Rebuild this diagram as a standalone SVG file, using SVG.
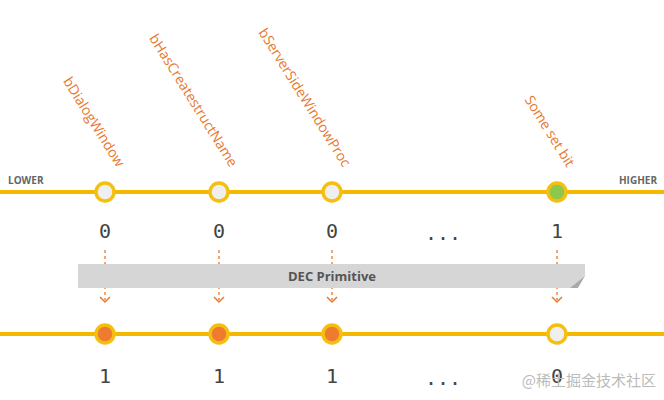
<svg xmlns="http://www.w3.org/2000/svg" width="664" height="400" viewBox="0 0 664 400">
<style>
.lab{font-family:"Open Sans","Liberation Sans",sans-serif;font-size:14px;fill:#e8782e}
.side{font-family:"Open Sans","Liberation Sans",sans-serif;font-size:10px;font-weight:bold;fill:#666}
.dig{font-family:"DejaVu Sans Mono","Liberation Mono",monospace;font-size:20px;fill:#444;text-anchor:middle}
.line{stroke:#f5b800;stroke-width:4}
.off{fill:#efefef;stroke:#f5bf10;stroke-width:3.5}
.on{fill:#ee7b30;stroke:#f5bf10;stroke-width:3.5}
.arr{stroke:#e8782e;stroke-width:1.3;stroke-dasharray:3 3;fill:none}
.head{stroke:#e8782e;stroke-width:1.5;fill:none}
</style>
<g id="labels">
<text class="lab" text-anchor="end" transform="translate(117,168) rotate(58)">bDialogWindow</text>
<text class="lab" text-anchor="end" transform="translate(230,168) rotate(58)">bHasCreatestructName</text>
<text class="lab" text-anchor="end" transform="translate(343,168) rotate(58)">bServerSideWindowProc</text>
<text class="lab" text-anchor="end" transform="translate(567,168) rotate(58)">Some set bit</text>
<text class="side" x="8" y="184">LOWER</text>
<text class="side" x="657" y="184" text-anchor="end">HIGHER</text>
</g>
<g id="lines">
<line class="line" x1="0" y1="192" x2="664" y2="192"/>
<line class="line" x1="0" y1="334" x2="664" y2="334"/>
</g>
<g id="connectors">
<path class="arr" d="M105 250V300M219 250V300M332 250V300M557 250V300"/>
<path class="head" d="M100 297l5 5 5-5M214 297l5 5 5-5M327 297l5 5 5-5M552 297l5 5 5-5"/>
</g>
<g id="banner">
<rect x="78" y="264" width="507" height="24" fill="#d6d6d6"/>
<path d="M585 276 L578 288 L570 288 Z" fill="#a9a9a9"/>
<path d="M585 276 L585 288 L578 288 Z" fill="#fff"/>
<text x="332" y="281" text-anchor="middle" font-family="Open Sans,Liberation Sans,sans-serif" font-size="13" font-weight="bold" fill="#555">DEC Primitive</text>
</g>
<g id="top-nodes">
<circle class="off" cx="105" cy="192" r="9"/>
<circle class="off" cx="219" cy="192" r="9"/>
<circle class="off" cx="332" cy="192" r="9"/>
<circle cx="557" cy="192" r="9" fill="#8cc84b" stroke="#f5bf10" stroke-width="3.5"/>
</g>
<g id="bottom-nodes">
<circle class="on" cx="105" cy="334" r="9"/>
<circle class="on" cx="219" cy="334" r="9"/>
<circle class="on" cx="332" cy="334" r="9"/>
<circle class="off" cx="557" cy="334" r="9"/>
</g>
<g id="digits">
<text class="dig" x="105" y="238">0</text>
<text class="dig" x="219" y="238">0</text>
<text class="dig" x="332" y="238">0</text>
<text class="dig" x="443" y="240">...</text>
<text class="dig" x="557" y="238">1</text>
<text class="dig" x="105" y="383">1</text>
<text class="dig" x="219" y="383">1</text>
<text class="dig" x="332" y="383">1</text>
<text class="dig" x="443" y="385">...</text>
<text class="dig" x="557" y="383">0</text>
</g>
<text x="656" y="386" text-anchor="end" font-family="Noto Sans CJK SC,sans-serif" font-size="15" fill="#bbb">@稀土掘金技术社区</text>
</svg>
